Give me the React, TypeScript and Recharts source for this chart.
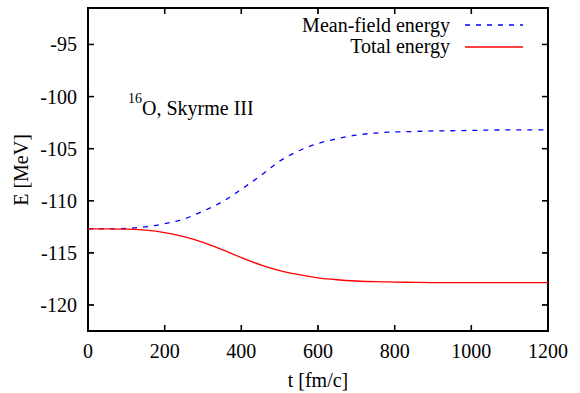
import { LineChart, Line, XAxis, YAxis, ReferenceArea } from "recharts"

const time = [0, 50, 100, 150, 200, 250, 300, 350, 400, 450, 500, 550, 600, 650, 700, 750, 800, 850, 900, 950, 1000, 1050, 1100, 1150, 1200]
const meanField = [-112.7, -112.7, -112.65, -112.5, -112.2, -111.75, -111.0, -110.1, -108.9, -107.6, -106.2, -105.2, -104.5, -104.05, -103.7, -103.5, -103.4, -103.35, -103.3, -103.28, -103.25, -103.22, -103.2, -103.2, -103.2]
const totalEnergy = [-112.7, -112.7, -112.72, -112.82, -113.05, -113.45, -114.0, -114.7, -115.45, -116.15, -116.7, -117.1, -117.4, -117.58, -117.7, -117.77, -117.8, -117.83, -117.85, -117.85, -117.85, -117.85, -117.85, -117.85, -117.85]

const xTicks = [0, 200, 400, 600, 800, 1000, 1200]
const yTicks = [-120, -115, -110, -105, -100, -95]
const xDomain = [0, 1200]
const yDomain = [-122.5, -91.5]

const data = time.map((t, i) => ({ t, meanField: meanField[i], total: totalEnergy[i] }))

const series = [
  { key: "meanField", name: "Mean-field energy", color: "#0000ff", dash: "5 6" },
  { key: "total", name: "Total energy", color: "#ff0000", dash: undefined },
]

const font = "Liberation Serif, Times New Roman, serif"
const TICK = 6
const tickLineStyle = { stroke: "#000", strokeWidth: 1 }

// with tickSize={-TICK} and tickMargin 0, (x, y) is the inner end of each tick
const BottomTick = (props: any) => {
  const { x, y, payload } = props
  return (
    <g>
      <path d={`M${x},${y}V${y + TICK}`} stroke="#000" strokeWidth={1.5} fill="none" />
      <text x={x} y={y + TICK + 27} textAnchor="middle" fontFamily={font} fontSize={20} fill="#000">
        {payload.value}
      </text>
    </g>
  )
}

const TopTick = (props: any) => {
  const { x, y } = props
  return <path d={`M${x},${y - TICK}V${y}`} stroke="#000" strokeWidth={1.5} fill="none" />
}

const LeftTick = (props: any) => {
  const { x, y, payload } = props
  return (
    <g>
      <path d={`M${x - TICK},${y}H${x}`} stroke="#000" strokeWidth={1.5} fill="none" />
      <text x={x - TICK - 11} y={y + 7} textAnchor="end" fontFamily={font} fontSize={20} fill="#000">
        {payload.value}
      </text>
    </g>
  )
}

const RightTick = (props: any) => {
  const { x, y } = props
  return <path d={`M${x},${y}H${x + TICK}`} stroke="#000" strokeWidth={1.5} fill="none" />
}

export default function App() {
  return (
    <LineChart
      width={580}
      height={393}
      data={data}
      margin={{ top: 0, right: 0, left: 0, bottom: 0 }}
      style={{ position: "absolute", left: 0, top: 0, background: "#fff" }}
    >
      <XAxis
        dataKey="t"
        type="number"
        domain={xDomain}
        ticks={xTicks}
        height={62}
        tickSize={-TICK}
        tickMargin={0}
        tick={BottomTick}
        axisLine={false}
        tickLine={tickLineStyle}
      />
      <XAxis
        xAxisId="top"
        orientation="top"
        dataKey="t"
        type="number"
        domain={xDomain}
        ticks={xTicks}
        height={8}
        tickSize={-TICK}
        tickMargin={0}
        tick={TopTick}
        axisLine={false}
        tickLine={tickLineStyle}
      />
      <YAxis
        type="number"
        domain={yDomain}
        ticks={yTicks}
        width={88}
        tickSize={-TICK}
        tickMargin={0}
        tick={LeftTick}
        axisLine={false}
        tickLine={tickLineStyle}
        allowDataOverflow
      />
      <YAxis
        yAxisId="right"
        orientation="right"
        type="number"
        domain={yDomain}
        ticks={yTicks}
        width={32}
        tickSize={-TICK}
        tickMargin={0}
        tick={RightTick}
        axisLine={false}
        tickLine={tickLineStyle}
        allowDataOverflow
      />
      <ReferenceArea
        x1={xDomain[0]}
        x2={xDomain[1]}
        y1={yDomain[0]}
        y2={yDomain[1]}
        fill="none"
        fillOpacity={0}
        stroke="#000"
        strokeWidth={2}
        strokeOpacity={1}
        ifOverflow="visible"
      />
      {series.map((s) => (
        <Line
          key={s.key}
          type="monotone"
          dataKey={s.key}
          name={s.name}
          stroke={s.color}
          strokeWidth={1.3}
          strokeDasharray={s.dash}
          dot={false}
          isAnimationActive={false}
        />
      ))}
      {series.map((s, i) => (
        <g key={"leg-" + s.key}>
          <text x={450} y={32 + i * 21} textAnchor="end" fontFamily={font} fontSize={20} fill="#000">
            {s.name}
          </text>
          <path d={`M465,${25 + i * 22}H523`} stroke={s.color} strokeWidth={1.3} strokeDasharray={s.dash} />
        </g>
      ))}
      <text x={128} y={115} fontFamily={font} fontSize={20} fill="#000">
        <tspan fontSize={14} dy={-12}>16</tspan>
        <tspan dy={12}>O, Skyrme III</tspan>
      </text>
      <text
        x={28}
        y={170}
        transform="rotate(-90 28 170)"
        textAnchor="middle"
        fontFamily={font}
        fontSize={20}
        fill="#000"
      >
        E [MeV]
      </text>
      <text x={318} y={387} textAnchor="middle" fontFamily={font} fontSize={20} fill="#000">
        t [fm/c]
      </text>
    </LineChart>
  )
}
